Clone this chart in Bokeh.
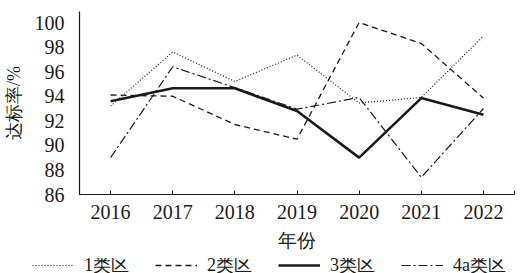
from bokeh.plotting import figure
from bokeh.models import FixedTicker, Legend, LegendItem, Range1d
from bokeh.layouts import column
from bokeh.embed import file_html
from bokeh.resources import INLINE

years = [2016, 2017, 2018, 2019, 2020, 2021, 2022]
zone1 = [93.2, 97.6, 95.2, 97.35, 93.45, 93.9, 98.9]
zone2 = [94.1, 94.0, 91.7, 90.5, 100.0, 98.3, 93.85]
zone3 = [93.6, 94.65, 94.65, 92.8, 89.0, 93.85, 92.5]
zone4a = [89.0, 96.4, 94.7, 92.95, 93.9, 87.4, 93.0]
names = ["1类区", "2类区", "3类区", "4a类区"]
y_ticks = [86, 88, 90, 92, 94, 96, 98, 100]

FONT = "Liberation Serif"
INK = "#1a1a1a"
styles = [dict(line_width=1.2, line_dash="1 2"),
          dict(line_width=1.3, line_dash="6 4"),
          dict(line_width=2.6, line_dash="solid"),
          dict(line_width=1.2, line_dash="9 3 2 3")]
all_series = [zone1, zone2, zone3, zone4a]

p = figure(width=518, height=258, output_backend="svg", toolbar_location=None,
           x_range=Range1d(2015.5, 2022.5), y_range=Range1d(86, 100.9),
           min_border_left=71, min_border_right=4, min_border_top=11, min_border_bottom=64)
p.outline_line_color = None
p.xgrid.visible = False
p.ygrid.visible = False

for series, st in zip(all_series, styles):
    p.line(years, series, line_color=INK, **st)

xa = p.xaxis[0]
xa.ticker = FixedTicker(ticks=[2015.5] + years + [2022.5])
xa.major_label_overrides = {2015.5: "", 2022.5: ""}
xa.minor_tick_line_color = None
xa.major_tick_in = 4
xa.major_tick_out = 0
xa.major_label_standoff = 10
xa.axis_label = "年份"
xa.axis_label_standoff = 8
xa.axis_label_text_font_size = "19px"

ya = p.yaxis[0]
ya.ticker = FixedTicker(ticks=y_ticks)
ya.minor_tick_line_color = None
ya.major_tick_in = 0
ya.major_tick_out = 0
ya.major_label_standoff = 15
ya.axis_label = "达标率/%"
ya.axis_label_standoff = 8
ya.axis_label_text_font_size = "18px"

for ax in (xa, ya):
    ax.axis_line_color = INK
    ax.axis_line_width = 1.2
    ax.major_tick_line_color = INK
    ax.major_label_text_font = FONT
    ax.major_label_text_font_size = "20px"
    ax.major_label_text_color = INK
    ax.axis_label_text_font = FONT
    ax.axis_label_text_font_style = "normal"
    ax.axis_label_text_color = INK

# legend strip: same series drawn out of view, only the legend is visible
lg = figure(width=518, height=26, output_backend="svg", toolbar_location=None,
            x_range=Range1d(0, 1), y_range=Range1d(0, 1), min_border=0,
            x_axis_location=None, y_axis_location=None)
lg.outline_line_color = None
lg.grid.visible = False

# keep the legend strip's frame independent of the main plot's frame
legend_x = 0
if "frame_align" in lg.properties():
    lg.frame_align = False
    p.frame_align = False
    legend_x = 32

lrs = [lg.line(years, series, line_color=INK, **st) for series, st in zip(all_series, styles)]
legend = Legend(items=[LegendItem(label=n, renderers=[r]) for n, r in zip(names, lrs)],
                orientation="horizontal", location=(legend_x, 7),
                glyph_width=42, glyph_height=16, label_standoff=10, spacing=26,
                padding=0, margin=0, border_line_color=None, background_fill_alpha=0,
                label_text_font=FONT, label_text_font_size="18px", label_text_color=INK,
                label_height=18)
lg.add_layout(legend, "center")

layout = column(p, lg, spacing=0)
open("out.html", "w").write(file_html(layout, INLINE))
